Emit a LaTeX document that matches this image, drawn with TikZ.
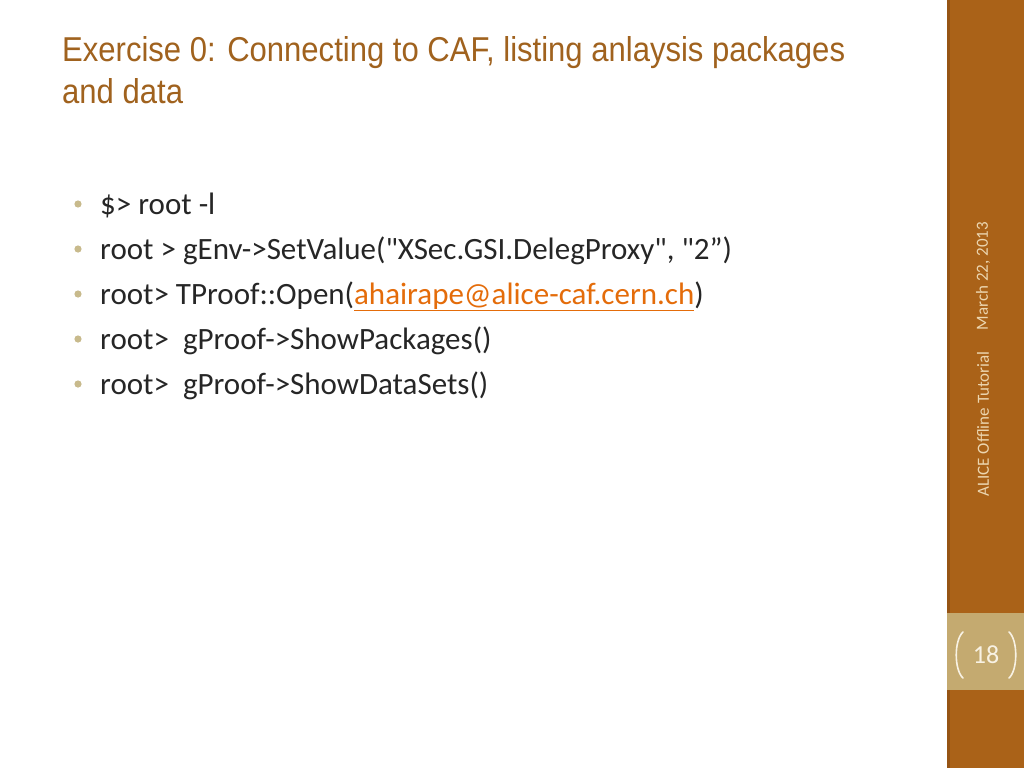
\documentclass[tikz,border=0pt]{standalone}
\usepackage{fontspec}
\setmainfont{Carlito}[Ligatures=TeXOff]
\newfontfamily\titlefont[FakeStretch=0.9]{Liberation Sans}
\usetikzlibrary{positioning}
\definecolor{barbrown}{RGB}{170,98,24}
\definecolor{baredge}{RGB}{150,84,20}
\definecolor{pagetan}{RGB}{196,170,112}
\definecolor{titlebrown}{RGB}{160,98,30}
\definecolor{dotcolor}{RGB}{200,186,140}
\definecolor{bodytext}{RGB}{38,38,38}
\definecolor{linkorange}{RGB}{228,108,10}
\definecolor{sidetext}{RGB}{236,214,176}
\definecolor{bracketcol}{RGB}{248,242,228}

\tikzset{
  titleline/.style={anchor=base west, inner sep=0pt, text=titlebrown,
    font=\titlefont\fontsize{34.5}{38}\selectfont},
  bulletline/.style={anchor=base west, inner sep=0pt, text=bodytext,
    font=\fontsize{31}{36}\selectfont},
  sidelabel/.style={rotate=90, inner sep=0pt, text=sidetext,
    font=\fontsize{17}{19}\selectfont},
  bracket/.style={draw=bracketcol, line width=1.6pt, line cap=round}
}
\newcommand{\weblink}[1]{\textcolor{linkorange}{\underline{#1}}}

\begin{document}
\begin{tikzpicture}[x=1pt,y=-1pt]
    \useasboundingbox[fill=white] (0,0) rectangle (1024,768);
    % side bar
    \fill[barbrown] (947,0) rectangle (1024,768);
    \fill[baredge] (947,0) rectangle (950,768);
    \fill[pagetan] (947,613) rectangle (1024,690);
    % title
    \node[titleline] (title1) at (62,61) {Exercise 0: Connecting to CAF, listing anlaysis packages};
    \node[titleline] (title2) at (62,103) {and data};
    % bullets
    \foreach \y/\txt [count=\i] in {
        214/{\$> root -l},
        259/{root > gEnv->SetValue("XSec.GSI.DelegProxy", "2”)},
        304/{root> TProof::Open(\weblink{ahairape@alice-caf.cern.ch})},
        349/{root>\ \ gProof->ShowPackages()},
        394/{root>\ \ gProof->ShowDataSets()}} {
      \fill[dotcolor] (78,\y-10) circle (3.6);
      \node[bulletline] (item\i) at (100,\y) {\txt};
    }
    % side labels
    \node[sidelabel] (date) at (983,276) {March 22, 2013};
    \node[sidelabel] (event) at (983,424) {ALICE Offline Tutorial};
    % page number
    \node[inner sep=0pt, text=bracketcol, font=\fontsize{26}{28}\selectfont] (pagenum) at (986,655) {18};
    \draw[bracket] (963,632) .. controls (954,640) and (954,670) .. (963,678);
    \draw[bracket] (1009,632) .. controls (1018,640) and (1018,670) .. (1009,678);
\end{tikzpicture}
\end{document}
